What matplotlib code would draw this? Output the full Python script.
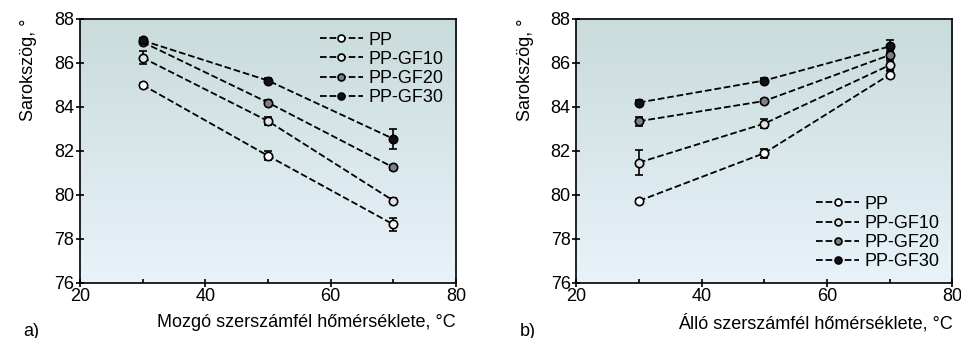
import numpy as np
import matplotlib.pyplot as plt
from matplotlib.lines import Line2D

plt.rcParams['font.family'] = ['Liberation Sans', 'DejaVu Sans']

temps = [30, 50, 70]
names = ["PP", "PP-GF10", "PP-GF20", "PP-GF30"]
faces = ["white", "#e4e4e4", "#808080", "#111111"]

# a) moving mould half
a_vals = [[85.0, 81.78, 78.66],
          [86.24, 83.36, 79.74],
          [86.95, 84.2, 81.25],
          [87.02, 85.2, 82.55]]
a_err = [[0.1, 0.2, 0.3],
         [0.3, 0.2, 0.1],
         [0.1, 0.1, 0.1],
         [0.1, 0.1, 0.45]]

# b) fixed mould half
b_vals = [[79.73, 81.9, 85.47],
          [81.47, 83.24, 85.9],
          [83.35, 84.27, 86.36],
          [84.2, 85.2, 86.75]]
b_err = [[0.1, 0.2, 0.15],
         [0.55, 0.2, 0.2],
         [0.2, 0.1, 0.2],
         [0.1, 0.1, 0.3]]

fig = plt.figure(figsize=(9.62, 3.38), dpi=100)
ax1 = fig.add_axes([0.083, 0.163, 0.391, 0.781])
ax2 = fig.add_axes([0.599, 0.163, 0.391, 0.781])

grad = np.linspace(0, 1, 256).reshape(-1, 1)
top = np.array([0.79, 0.86, 0.86])
bot = np.array([0.91, 0.95, 0.98])
img = top + (bot - top) * grad[:, :, None]


def draw(ax, vals, errs, xlabel, tag, loc):
    ax.imshow(img, extent=[0, 1, 0, 1], transform=ax.transAxes,
              aspect='auto', zorder=0)
    handles = []
    for name, v, e, fc in zip(names, vals, errs, faces):
        ax.errorbar(temps, v, yerr=e, fmt='o', ls='--', color='black',
                    lw=1.3, ms=6, mfc=fc, mec='black', mew=1.2,
                    capsize=3, elinewidth=1.2, zorder=3)
        handles.append(Line2D([], [], ls='--', color='black', lw=1.3,
                              marker='o', ms=5, mfc=fc, mec='black',
                              mew=1.2, label=name))
    ax.set_xlim(20, 80)
    ax.set_ylim(76, 88)
    ax.set_xticks([20, 40, 60, 80])
    ax.set_xticks([30, 50, 70], minor=True)
    ax.set_yticks([76, 78, 80, 82, 84, 86, 88])
    ax.tick_params(axis='both', which='major', direction='inout',
                   length=6, width=1.2, labelsize=13, pad=1)
    ax.tick_params(axis='x', which='minor', direction='in', length=3, width=1.2)
    for s in ax.spines.values():
        s.set_linewidth(1.2)
    ax.set_ylabel("Sarokszög, °", fontsize=13, labelpad=12, loc='top')
    ax.set_xlabel(xlabel, fontsize=13, loc='right', labelpad=6)
    ax.text(-0.15, -0.15, tag, transform=ax.transAxes, fontsize=13,
            va='top')
    ax.legend(handles=handles, loc=loc, frameon=False, fontsize=13,
              handlelength=2.4, handletextpad=0.3, labelspacing=0.12,
              borderaxespad=0.3)


draw(ax1, a_vals, a_err, "Mozgó szerszámfél hőmérséklete, °C", "a)", "upper right")
draw(ax2, b_vals, b_err, "Álló szerszámfél hőmérséklete, °C", "b)", "lower right")

fig.savefig("out.png", dpi=100)
